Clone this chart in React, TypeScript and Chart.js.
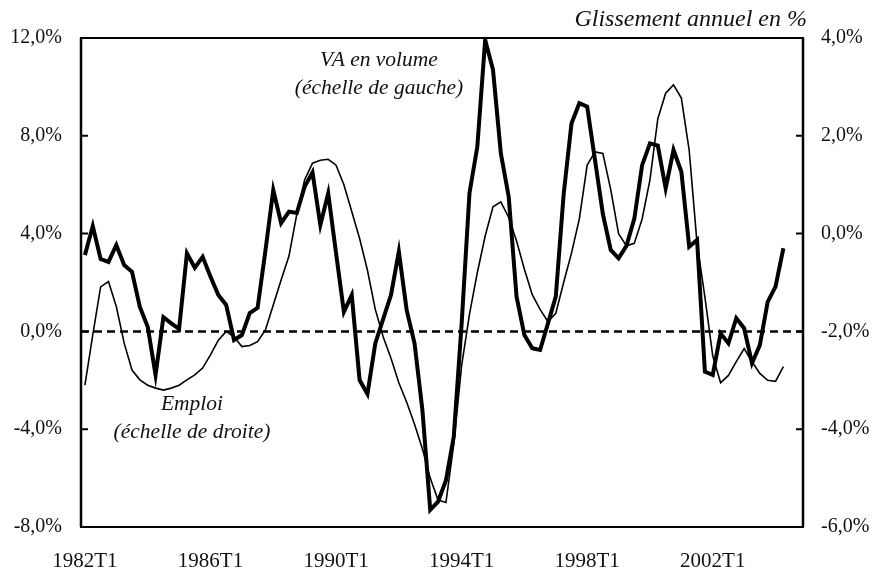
import React, { useEffect, useRef } from "react";
import { Chart, registerables } from "chart.js";

Chart.register(...registerables);

// Quarterly categories 1982T1 .. 2004T4
const years: number[] = [];
for (let y = 1982; y <= 2004; y++) years.push(y);
const quarters: string[] = [];
years.forEach((y) => {
  for (let q = 1; q <= 4; q++) quarters.push(`${y}T${q}`);
});

// Annual growth of value added in volume (left scale, %)
const vaVolume: number[] = [
  3.12, 4.31, 2.96, 2.84, 3.53, 2.71, 2.44, 1.0, 0.19, -1.78,
  0.58, 0.33, 0.1, 3.19, 2.6, 3.05, 2.24, 1.49, 1.08, -0.35,
  -0.15, 0.75, 0.96, 3.3, 5.78, 4.43, 4.9, 4.84, 5.92, 6.5,
  4.35, 5.65, 3.2, 0.8, 1.49, -1.99, -2.56, -0.49, 0.5, 1.49,
  3.26, 0.87, -0.49, -3.2, -7.3, -6.96, -6.1, -4.3, 0.3, 5.65,
  7.55, 11.92, 10.7, 7.28, 5.51, 1.42, -0.15, -0.69, -0.76, 0.33,
  1.42, 5.6, 8.5, 9.33, 9.19, 7.0, 4.8, 3.33, 2.99, 3.5,
  4.6, 6.8, 7.69, 7.6, 5.85, 7.42, 6.53, 3.46, 3.74, -1.65,
  -1.78, -0.08, -0.49, 0.54, 0.13, -1.3, -0.56, 1.21, 1.83, 3.4,
];

// Annual growth of employment (right scale, %)
const emploi: number[] = [
  -3.1, -2.07, -1.09, -0.98, -1.49, -2.24, -2.79, -2.99, -3.1, -3.16,
  -3.2, -3.16, -3.1, -2.99, -2.89, -2.75, -2.48, -2.18, -2.0, -2.11,
  -2.31, -2.29, -2.21, -1.97, -1.46, -0.95, -0.46, 0.4, 1.1, 1.44,
  1.5, 1.52, 1.4, 1.0, 0.45, -0.1, -0.75, -1.55, -2.11, -2.55,
  -3.05, -3.45, -3.9, -4.4, -5.0, -5.45, -5.5, -4.3, -2.7, -1.65,
  -0.8, -0.05, 0.55, 0.65, 0.33, -0.15, -0.73, -1.25, -1.55, -1.8,
  -1.63, -1.0, -0.4, 0.3, 1.4, 1.67, 1.64, 0.9, 0.0, -0.25,
  -0.2, 0.3, 1.1, 2.35, 2.87, 3.04, 2.77, 1.7, -0.2, -1.3,
  -2.5, -3.05, -2.9, -2.62, -2.35, -2.62, -2.86, -3.0, -3.02, -2.72,
];

const leftTicks: number[] = [-8, -4, 0, 4, 8, 12];
const rightTicks: number[] = [-6, -4, -2, 0, 2, 4];

const FONT = '"Liberation Serif", "Times New Roman", serif';

const pct = (v: number) => v.toFixed(1).replace(".", ",") + "%";

const framePlugin = {
  id: "frame",
  beforeDatasetsDraw(chart: any) {
    const { ctx, chartArea: a, scales } = chart;
    const y0 = scales.y.getPixelForValue(0);
    ctx.save();
    ctx.strokeStyle = "#000";
    ctx.lineWidth = 2.5;
    ctx.setLineDash([8, 5]);
    ctx.beginPath();
    ctx.moveTo(a.left, y0);
    ctx.lineTo(a.right, y0);
    ctx.stroke();
    ctx.restore();
  },
  afterDatasetsDraw(chart: any) {
    const { ctx, chartArea: a, scales } = chart;
    ctx.save();
    ctx.strokeStyle = "#000";
    ctx.lineWidth = 2;
    ctx.strokeRect(a.left, a.top, a.right - a.left, a.bottom - a.top);
    ctx.lineWidth = 2.5;
    ctx.beginPath();
    ctx.moveTo(a.left, a.top);
    ctx.lineTo(a.left, a.bottom);
    ctx.moveTo(a.right, a.top);
    ctx.lineTo(a.right, a.bottom);
    ctx.stroke();
    ctx.lineWidth = 2;
    ctx.beginPath();
    leftTicks.forEach((v) => {
      const y = scales.y.getPixelForValue(v);
      ctx.moveTo(a.left, y);
      ctx.lineTo(a.left + 7, y);
    });
    rightTicks.forEach((v) => {
      const y = scales.y2.getPixelForValue(v);
      ctx.moveTo(a.right, y);
      ctx.lineTo(a.right - 7, y);
    });
    ctx.stroke();

    ctx.fillStyle = "#111";
    ctx.textBaseline = "middle";
    ctx.font = `italic 24px ${FONT}`;
    ctx.textAlign = "right";
    ctx.fillText("Glissement annuel en %", 807, 20);
    ctx.font = `italic 21.5px ${FONT}`;
    ctx.textAlign = "center";
    ctx.fillText("VA en volume", 379, 60);
    ctx.fillText("(échelle de gauche)", 379, 88);
    ctx.fillText("Emploi", 192, 404);
    ctx.fillText("(échelle de droite)", 192, 432);
    ctx.restore();
  },
};

export default function App() {
  const canvasRef = useRef<HTMLCanvasElement | null>(null);

  useEffect(() => {
    document.body.style.margin = "0";
    const canvas = canvasRef.current;
    if (!canvas) return;
    const chart = new Chart(canvas, {
      type: "line",
      data: {
        labels: quarters,
        datasets: [
          {
            label: "VA en volume",
            data: vaVolume,
            yAxisID: "y",
            borderColor: "#000",
            borderWidth: 4,
            pointRadius: 0,
            tension: 0,
            fill: false,
          },
          {
            label: "Emploi",
            data: emploi,
            yAxisID: "y2",
            borderColor: "#000",
            borderWidth: 1.6,
            pointRadius: 0,
            tension: 0,
            fill: false,
          },
        ],
      },
      options: {
        animation: false,
        responsive: true,
        maintainAspectRatio: false,
        layout: { padding: { top: 38, left: 0, right: 0, bottom: 0 } },
        plugins: {
          legend: { display: false },
          tooltip: { enabled: false },
        },
        scales: {
          x: {
            type: "category",
            offset: true,
            grid: { display: false, drawTicks: false },
            border: { display: false },
            ticks: {
              autoSkip: false,
              maxRotation: 0,
              minRotation: 0,
              padding: 22,
              color: "#111",
              font: { family: FONT, size: 21 },
              callback: (_v: any, i: number) => (i % 16 === 0 ? quarters[i] : ""),
            },
            afterFit: (s: any) => {
              s.height = 42;
            },
          },
          y: {
            position: "left",
            min: -8,
            max: 12,
            grid: { display: false, drawTicks: false },
            border: { display: false },
            afterBuildTicks: (s: any) => {
              s.ticks = leftTicks.map((v) => ({ value: v }));
            },
            ticks: {
              padding: 19,
              color: "#111",
              font: { family: FONT, size: 20 },
              callback: (v: any) => pct(Number(v)),
            },
            afterFit: (s: any) => {
              s.width = 81;
            },
          },
          y2: {
            position: "right",
            min: -6,
            max: 4,
            grid: { display: false, drawTicks: false },
            border: { display: false },
            afterBuildTicks: (s: any) => {
              s.ticks = rightTicks.map((v) => ({ value: v }));
            },
            ticks: {
              padding: 18,
              color: "#111",
              font: { family: FONT, size: 20 },
              callback: (v: any) => pct(Number(v)),
            },
            afterFit: (s: any) => {
              s.width = 70;
            },
          },
        },
      },
      plugins: [framePlugin],
    });
    return () => chart.destroy();
  }, []);

  return (
    <div style={{ position: "absolute", left: 0, top: 0, width: 873, height: 569 }}>
      <canvas ref={canvasRef} />
    </div>
  );
}
